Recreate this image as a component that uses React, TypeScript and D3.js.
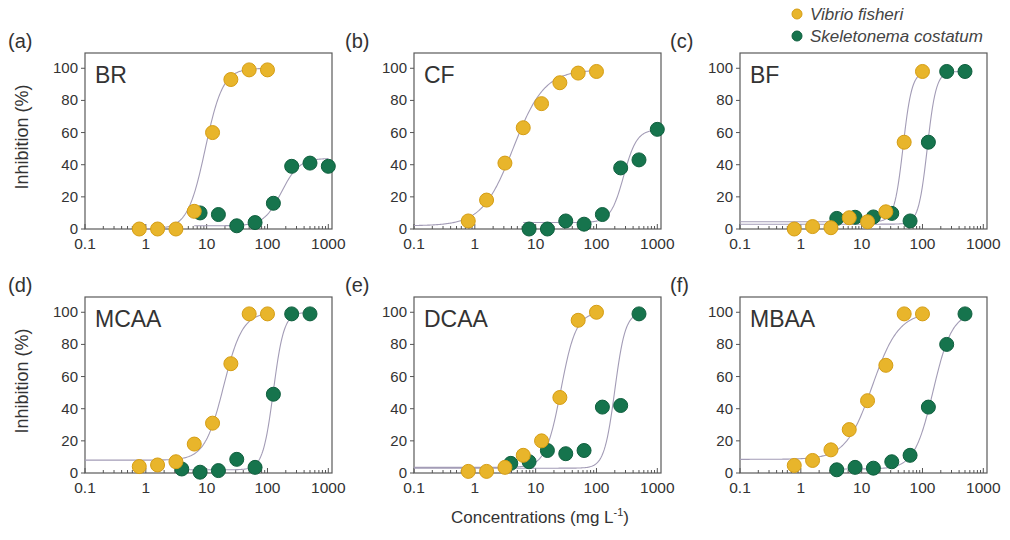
import React, { useEffect, useRef } from 'react';
import * as d3 from 'd3';

// concentrations (mg/L)
const vibrioConc = [0.78, 1.56, 3.125, 6.25, 12.5, 25, 50, 100];
const skeletoConcHigh = [7.8, 15.6, 31.25, 62.5, 125, 250, 500, 1000];
const skeletoConc = [3.9, 7.8, 15.6, 31.25, 62.5, 125, 250, 500];

const panelNames = ['BR', 'CF', 'BF', 'MCAA', 'DCAA', 'MBAA'];
const panelLetters = ['(a)', '(b)', '(c)', '(d)', '(e)', '(f)'];

// inhibition (%)
const vibrioBR = [0, 0, 0, 11, 60, 93, 99, 99];
const skeletoBR = [10, 9, 2, 4, 16, 39, 41, 39];
const vibrioCF = [5, 18, 41, 63, 78, 91, 97, 98];
const skeletoCF = [0, 0, 5, 3, 9, 38, 43, 62];
const vibrioBF = [0, 1.5, 0.8, 7, 4.5, 10.7, 54, 98];
const skeletoBF = [6.6, 7.3, 7.5, 9.7, 5, 54, 98, 98];
const vibrioMCAA = [4, 5, 7, 18, 31, 68, 99, 99];
const skeletoMCAA = [2.5, 0.5, 1.5, 8.5, 3.5, 49, 99, 99];
const vibrioDCAA = [1, 1, 3.5, 11, 20, 47, 95, 100];
const skeletoDCAA = [6, 7, 14, 12, 14, 41, 42, 99];
const vibrioMBAA = [4.7, 7.8, 14.4, 27, 45, 67, 99, 99];
const skeletoMBAA = [2, 3.5, 3, 7, 11, 41, 80, 99];

// fitted dose-response curves: [bottom, top, EC50, hill, xFrom, xTo]
const fitVibrio = [
  [0, 100, 9.5, 3, 0.78, 100],
  [2, 99, 4.3, 1.7, 0.1, 100],
  [4.5, 98, 48, 6, 0.1, 100],
  [8, 100, 19, 2.8, 0.1, 100],
  [3.5, 100, 26, 3.5, 0.1, 100],
  [8.5, 100, 15, 2, 0.1, 100],
];
const fitSkeleto = [
  [2, 44, 170, 3, 6.25, 1000],
  [4, 62, 280, 4, 6.25, 1000],
  [3, 98, 120, 6, 0.1, 500],
  [2, 100, 125, 5, 3.9, 500],
  [3, 100, 200, 5, 0.1, 500],
  [2.5, 100, 150, 2.8, 3.9, 500],
];

const vibrioData = [vibrioBR, vibrioCF, vibrioBF, vibrioMCAA, vibrioDCAA, vibrioMBAA];
const skeletoData = [skeletoBR, skeletoCF, skeletoBF, skeletoMCAA, skeletoDCAA, skeletoMBAA];
const skeletoX = [skeletoConcHigh, skeletoConcHigh, skeletoConc, skeletoConc, skeletoConc, skeletoConc];

const yTicks = [0, 20, 40, 60, 80, 100];
const xTicks = [0.1, 1, 10, 100, 1000];
const xTickLabels = ['0.1', '1', '10', '100', '1000'];

const YELLOW = '#e8b52b';
const YELLOW_EDGE = '#d59d14';
const GREEN = '#16744d';
const GREEN_EDGE = '#0f5f3e';
const CURVE = '#a39cb6';
const FONT = 'Liberation Sans, Arial, sans-serif';

export default function App() {
  const node = useRef<SVGSVGElement>(null);

  useEffect(() => {
    const svg = d3.select(node.current);
    svg.selectAll('*').remove();

    const colLeft = [85, 414, 740];
    const letterX = [8, 345, 670];
    const rowTop = [53, 297];
    const w = 247;
    const h = 176;

    panelNames.forEach((name, i) => {
      const col = i % 3;
      const row = Math.floor(i / 3);
      const left = colLeft[col];
      const top = rowTop[row];

      const x = d3.scaleLog().domain([0.1, 1150]).range([left, left + w]);
      const y = d3.scaleLinear().domain([0, 109.5]).range([top + h, top]);

      const g = svg.append('g');

      g.append('rect')
        .attr('x', left).attr('y', top)
        .attr('width', w).attr('height', h)
        .attr('fill', 'none').attr('stroke', '#5a5a5a').attr('stroke-width', 1.2);

      // minor ticks on log axis
      const minors: number[] = [];
      for (let dec = 0.1; dec < 1000; dec *= 10) {
        for (let m = 2; m <= 9; m++) minors.push(dec * m);
      }
      g.selectAll('.minor').data(minors).enter().append('line')
        .attr('x1', (d) => x(d)).attr('x2', (d) => x(d))
        .attr('y1', top + h).attr('y2', top + h - 3)
        .attr('stroke', '#555').attr('stroke-width', 1);
      g.selectAll('.major').data(xTicks).enter().append('line')
        .attr('x1', (d) => x(d)).attr('x2', (d) => x(d))
        .attr('y1', top + h).attr('y2', top + h - 5)
        .attr('stroke', '#555').attr('stroke-width', 1);
      g.selectAll('.xlab').data(xTicks).enter().append('text')
        .attr('x', (d) => x(d)).attr('y', top + h + 20)
        .attr('text-anchor', 'middle')
        .attr('font-family', FONT).attr('font-size', 15.5).attr('fill', '#333')
        .text((d, j) => xTickLabels[j]);

      g.selectAll('.ytick').data(yTicks).enter().append('line')
        .attr('x1', left).attr('x2', left - 4)
        .attr('y1', (d) => y(d)).attr('y2', (d) => y(d))
        .attr('stroke', '#555').attr('stroke-width', 1);
      g.selectAll('.ylab').data(yTicks).enter().append('text')
        .attr('x', left - 7).attr('y', (d) => y(d) + 5)
        .attr('text-anchor', 'end')
        .attr('font-family', FONT).attr('font-size', 15).attr('fill', '#333')
        .text((d) => d);

      // fitted curves
      const line = d3.line<number>()
        .x((d) => x(d))
        .y((d) => 0);
      [fitVibrio[i], fitSkeleto[i]].forEach((f) => {
        const [bottom, topV, ec50, hill, from, to] = f;
        const pts = d3.range(0, 201).map((k) =>
          Math.pow(10, Math.log10(from) + (k / 200) * (Math.log10(to) - Math.log10(from))));
        const model = (c: number) => bottom + (topV - bottom) / (1 + Math.pow(ec50 / c, hill));
        g.append('path')
          .attr('d', line.y((c) => y(model(c)))(pts))
          .attr('fill', 'none').attr('stroke', CURVE).attr('stroke-width', 1.1);
      });

      // points: green first, yellow on top
      g.selectAll('.sc').data(skeletoData[i]).enter().append('circle')
        .attr('cx', (d, j) => x(skeletoX[i][j])).attr('cy', (d) => y(d))
        .attr('r', 7).attr('fill', GREEN).attr('stroke', GREEN_EDGE).attr('stroke-width', 1);
      g.selectAll('.vf').data(vibrioData[i]).enter().append('circle')
        .attr('cx', (d, j) => x(vibrioConc[j])).attr('cy', (d) => y(d))
        .attr('r', 7).attr('fill', YELLOW).attr('stroke', YELLOW_EDGE).attr('stroke-width', 1);

      g.append('text')
        .attr('x', left + 10).attr('y', top + 30)
        .attr('font-family', FONT).attr('font-size', 23).attr('fill', '#333')
        .text(name);

      g.append('text')
        .attr('x', letterX[col]).attr('y', top - 5)
        .attr('font-family', FONT).attr('font-size', 20).attr('fill', '#333')
        .text(panelLetters[i]);

      if (col === 0) {
        g.append('text')
          .attr('transform', `translate(28, ${top + 84}) rotate(-90)`)
          .attr('text-anchor', 'middle')
          .attr('font-family', FONT).attr('font-size', 18).attr('fill', '#333')
          .text('Inhibition (%)');
      }
    });

    // x axis title
    const xt = svg.append('text')
      .attr('x', 540).attr('y', 523)
      .attr('text-anchor', 'middle')
      .attr('font-family', FONT).attr('font-size', 17).attr('fill', '#333');
    xt.append('tspan').text('Concentrations (mg L');
    xt.append('tspan').attr('dy', -7).attr('font-size', 11).text('-1');
    xt.append('tspan').attr('dy', 7).text(')');

    // legend
    const legend = [
      { label: 'Vibrio fisheri', fill: YELLOW, edge: YELLOW_EDGE },
      { label: 'Skeletonema costatum', fill: GREEN, edge: GREEN_EDGE },
    ];
    legend.forEach((l, k) => {
      svg.append('circle')
        .attr('cx', 797).attr('cy', 14 + k * 22).attr('r', 5)
        .attr('fill', l.fill).attr('stroke', l.edge);
      svg.append('text')
        .attr('x', 810).attr('y', 20 + k * 22)
        .attr('font-family', FONT).attr('font-size', 17).attr('font-style', 'italic')
        .attr('fill', '#444')
        .text(l.label);
    });
  }, []);

  return (
    <svg ref={node} width={1010} height={540}
      style={{ position: 'absolute', left: 0, top: 0, background: '#fff' }} />
  );
}
